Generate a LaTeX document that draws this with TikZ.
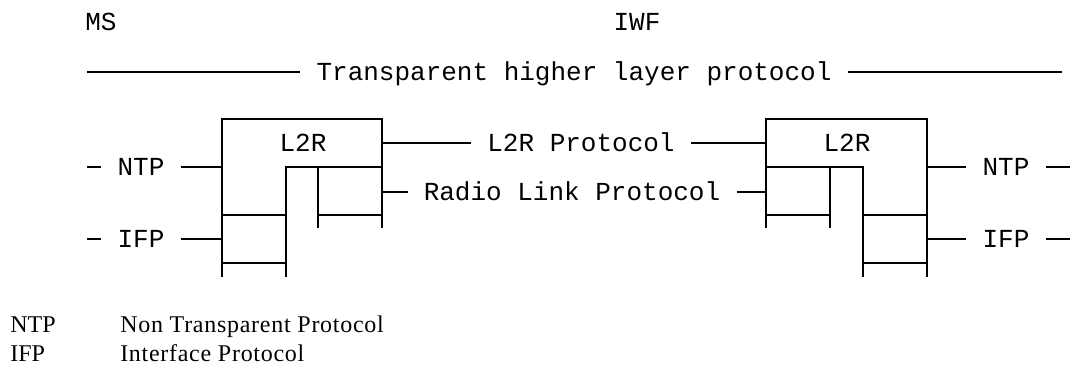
\documentclass[tikz,border=0pt]{standalone}
\usepackage{fontspec}
\setmainfont{Liberation Serif}
\setmonofont{Liberation Mono}
\usetikzlibrary{positioning}

\tikzset{
  mono/.style={font=\ttfamily\fontsize{19.5}{22}\selectfont, inner ysep=0pt, inner xsep=12pt, anchor=base},
  legend/.style={font=\fontsize{18}{21}\selectfont, inner sep=0pt, anchor=base west},
  spaced/.style={font=\fontsize{18}{21}\selectfont\addfontfeature{LetterSpace=3}},
  wire/.style={line width=1.5pt},
}

\begin{document}
\begin{tikzpicture}[x=0.75pt,y=-0.75pt]
\useasboundingbox (0,0) rectangle (1073,365);
% headings
\node[mono](ms) at (101,30){MS};
\node[mono](iwf) at (637,30){IWF};
\node[mono](thlp) at (574,80){Transparent higher layer protocol};
\coordinate (thlpA) at (87,72);
\coordinate (thlpB) at (1062,72);
\draw[wire] (thlpA) -- (thlpA -| thlp.west);
\draw[wire] (thlpB -| thlp.east) -- (thlpB);

% MS side
\coordinate (msNtp) at (222,167);
\coordinate (msIfp) at (222,239);
\coordinate (msL2r) at (382,143);
\coordinate (msRlp) at (382,192);
\draw[wire] (222,277) -- (222,119) -- (382,119) -- (382,228);
\draw[wire] (286,277) -- (286,167) -- (382,167);
\draw[wire] (318,228) -- (318,167);
\draw[wire] (318,215) -- (382,215);
\draw[wire] (222,215) -- (286,215);
\draw[wire] (222,263) -- (286,263);
\node[mono](l2rL) at (303,151){L2R};

\node[mono](ntpL) at (141,175){NTP};
\node[mono](ifpL) at (141,247){IFP};
\coordinate (ntpLend) at (87,167);
\coordinate (ifpLend) at (87,239);
\draw[wire] (ntpLend) -- (ntpLend -| ntpL.west);
\draw[wire] (msNtp -| ntpL.east) -- (msNtp);
\draw[wire] (ifpLend) -- (ifpLend -| ifpL.west);
\draw[wire] (msIfp -| ifpL.east) -- (msIfp);

% IWF side
\coordinate (iwfNtp) at (927,167);
\coordinate (iwfIfp) at (927,239);
\coordinate (iwfL2r) at (766,143);
\coordinate (iwfRlp) at (766,192);
\draw[wire] (766,228) -- (766,119) -- (927,119) -- (927,277);
\draw[wire] (766,167) -- (863,167) -- (863,277);
\draw[wire] (830,167) -- (830,228);
\draw[wire] (766,215) -- (830,215);
\draw[wire] (863,215) -- (927,215);
\draw[wire] (863,263) -- (927,263);
\node[mono](l2rR) at (847,151){L2R};

\node[mono](ntpR) at (1006,175){NTP};
\node[mono](ifpR) at (1006,247){IFP};
\coordinate (ntpRend) at (1070,167);
\coordinate (ifpRend) at (1070,239);
\draw[wire] (iwfNtp) -- (iwfNtp -| ntpR.west);
\draw[wire] (ntpRend -| ntpR.east) -- (ntpRend);
\draw[wire] (iwfIfp) -- (iwfIfp -| ifpR.west);
\draw[wire] (ifpRend -| ifpR.east) -- (ifpRend);

% peer protocols
\node[mono](l2rp) at (581,151){L2R Protocol};
\node[mono](rlp) at (572,200){Radio Link Protocol};
\draw[wire] (msL2r) -- (msL2r -| l2rp.west);
\draw[wire] (iwfL2r -| l2rp.east) -- (iwfL2r);
\draw[wire] (msRlp) -- (msRlp -| rlp.west);
\draw[wire] (iwfRlp -| rlp.east) -- (iwfRlp);

% legend
\node[legend](ntpK) at (10,332){NTP};
\node[legend,spaced](ntpV) at (120,332){Non Transparent Protocol};
\node[legend](ifpK) at (10,361){IFP};
\node[legend,spaced](ifpV) at (120,361){Interface Protocol};
\end{tikzpicture}
\end{document}
